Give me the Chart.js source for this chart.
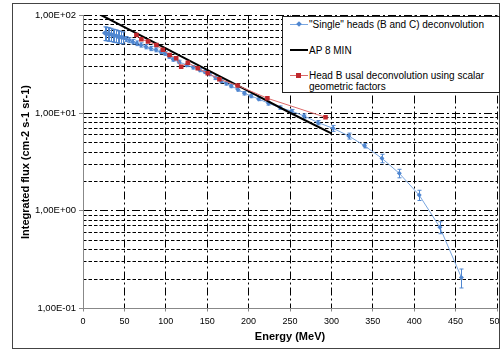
<!DOCTYPE html>
<html><head><meta charset="utf-8">
<script src="https://cdn.jsdelivr.net/npm/chart.js@4.4.1/dist/chart.umd.min.js"></script>
<style>
html,body{margin:0;padding:0;background:#fff;}
#wrap{position:relative;width:500px;height:351px;overflow:hidden;background:#fff;}
#c{position:absolute;left:0;top:0;}
#frame{position:absolute;left:12px;top:3px;width:488px;height:346px;box-sizing:border-box;border:1px solid #444;pointer-events:none;}
#legend{position:absolute;left:282px;top:16px;width:218px;height:77px;box-sizing:border-box;border:1px solid #222;background:#fff;font:10px "Liberation Sans",Arial,sans-serif;color:#000;}
.txt{position:absolute;left:26px;line-height:11px;white-space:nowrap;}
.ln{position:absolute;left:7px;width:18px;}
.mk{position:absolute;}
</style>
</head><body>
<div id="wrap">
<canvas id="c" width="501" height="351"></canvas>
<div id="frame"></div>
<div id="legend"></div>
</div>
<script>
// ---- data ----
const seriesNames = ['"Single" heads (B and C) deconvolution', 'AP 8 MIN', 'Head B usal deconvolution using scalar geometric factors'];

const blueEnergy = [26,28,30,32,34,36,38,40,42,44,46,48, 52,56,60,65,70,76,82,88,94,99,104,109, 116,125,133,141,147,153,160,167,173,179,187,195,203,212,224,238,252, 267,284,302,321,340,361,382,406,431,457];
const blueFlux   = [66,65.5,65,64.5,64,63,62.5,62,61,60.5,60,59.5, 57.5,56,54,52,50,48,46,44.5,42.5,41,38,35.5, 33.5,31.2,29.5,27.7,26.5,25.2,23,21.4,20.2,19,17.5,16,15,14,12.6,11.4,10.5, 9.36,8.0,7.0,5.84,4.64,3.45,2.42,1.45,0.678,0.208];
const blueErr    = [0.16,0.16,0.16,0.155,0.155,0.15,0.15,0.15,0.145,0.145,0.14,0.14, 0.06,0.06,0.055,0.055,0.05,0.05,0.05,0.045,0.045,0.045,0.04,0.04, 0.04,0.04,0.04,0.04,0.04,0.04,0.04,0.04,0.04,0.04,0.04,0.04,0.04,0.04,0.04,0.04,0.04, 0.05,0.05,0.07,0.07,0.05,0.1,0.1,0.12,0.14,0.22];

const blackEnergy = [20,50,100,150,200,250,300];
const blackFlux   = [103,76,46,27.8,16.8,10.1,6.2];

const redEnergy = [64.5,70.5,78.5,88.6,96.5,104.6,112.6,118.6,126.6,138.6,150.6,164.7,186.7,222.7,292.9];
const redFlux   = [63.3,57.2,54.1,50.0,44.5,39.5,36.5,29.9,32.9,28.8,25.6,22.3,19.2,14.2,9.08];

const xTickValues = [0,50,100,150,200,250,300,350,400,450,500];
const yMajorTicks = [0.1,1,10,100];
const yMajorLabels = ['1,00E-01','1,00E+00','1,00E+01','1,00E+02'];
const yMinorTicks = [0.2,0.3,0.4,0.5,0.6,0.7,0.8,0.9,2,3,4,5,6,7,8,9,20,30,40,50,60,70,80,90];

// ---- styles ----
const BLUE = '#4f86d0';
const BLUE_LINE = '#79a6e0';
const RED_MK = '#c0282d';
const RED_LINE = '#dc6a6a';
const FONT = '"Liberation Sans", Arial, sans-serif';

const pts = (xs, ys) => xs.map((v, i) => ({x: v, y: ys[i]}));

const errorBars = {
  id: 'errorBars',
  afterDatasetDraw(chart, args) {
    if (args.index !== 0) return;
    const {ctx, scales: {x, y}} = chart;
    ctx.save();
    ctx.strokeStyle = BLUE;
    ctx.lineWidth = 1;
    blueEnergy.forEach((e, i) => {
      const v = blueFlux[i], r = blueErr[i];
      const px = Math.round(x.getPixelForValue(e)) + 0.5;
      const y1 = y.getPixelForValue(v * (1 + r));
      const y2 = y.getPixelForValue(v * (1 - r));
      ctx.beginPath();
      ctx.moveTo(px, y1); ctx.lineTo(px, y2);
      ctx.moveTo(px - 2, y1); ctx.lineTo(px + 2, y1);
      ctx.moveTo(px - 2, y2); ctx.lineTo(px + 2, y2);
      ctx.stroke();
    });
    ctx.restore();
  }
};

new Chart(document.getElementById('c'), {
  type: 'scatter',
  data: {
    datasets: [
      { label: seriesNames[0], data: pts(blueEnergy, blueFlux), showLine: true,
        borderColor: BLUE_LINE, backgroundColor: BLUE, pointBorderColor: BLUE, borderWidth: 1,
        pointStyle: 'rectRot', pointRadius: 2.5, pointBorderWidth: 0, order: 2 },
      { label: seriesNames[1], data: pts(blackEnergy, blackFlux), showLine: true,
        borderColor: '#000', backgroundColor: '#000', borderWidth: 2, pointRadius: 0, order: 1 },
      { label: seriesNames[2], data: pts(redEnergy, redFlux), showLine: true,
        borderColor: RED_LINE, backgroundColor: RED_MK, pointBorderColor: RED_MK, borderWidth: 1,
        pointStyle: 'rect', pointRadius: 3.2, pointBorderWidth: 0, order: 0 }
    ]
  },
  options: {
    responsive: false, animation: false, devicePixelRatio: 1,
    layout: { padding: { left: 0, top: 15.5, right: 2, bottom: 0 } },
    plugins: { legend: { display: false }, tooltip: { enabled: false } },
    scales: {
      x: {
        type: 'linear', min: 0, max: 500,
        afterBuildTicks: a => { a.ticks = xTickValues.map(v => ({value: v})); },
        afterFit: s => { s.height = 42.5; s.paddingLeft = 0; s.paddingRight = 0; },
        ticks: { font: { family: FONT, size: 9 }, color: '#000', padding: 4.5, maxRotation: 0, autoSkip: false },
        grid: { color: '#000', lineWidth: 1, tickLength: 3, tickColor: '#888' },
        border: { color: '#888', dash: [8, 3, 2, 3] },
        title: { display: true, text: 'Energy (MeV)', color: '#000',
                 font: { family: FONT, size: 11, weight: 'bold' }, padding: { top: 0, bottom: 7.4 } }
      },
      y: {
        type: 'logarithmic', position: 'left', min: 0.1, max: 100,
        afterBuildTicks: a => { a.ticks = yMajorTicks.map(v => ({value: v})); },
        afterFit: s => { s.width = 83; s.paddingTop = 0; s.paddingBottom = 0; },
        ticks: { font: { family: FONT, size: 9.5 }, color: '#000', padding: 3, autoSkip: false,
                 callback: v => yMajorLabels[yMajorTicks.indexOf(v)] },
        grid: { color: '#000', lineWidth: 1, tickLength: 4, tickColor: '#888' },
        border: { color: '#888', dash: [8, 3, 2, 3] },
        title: { display: true, text: 'Integrated flux (cm-2 s-1 sr-1)', color: '#000',
                 font: { family: FONT, size: 11, weight: 'bold' }, padding: { top: 19.4, bottom: 0 } }
      },
      y2: {
        type: 'logarithmic', position: 'left', min: 0.1, max: 100,
        afterBuildTicks: a => { a.ticks = yMinorTicks.map(v => ({value: v})); },
        afterFit: s => { s.width = 0; s.paddingTop = 0; s.paddingBottom = 0; },
        ticks: { display: false },
        grid: { color: '#000', lineWidth: 1, drawTicks: false },
        border: { display: false, dash: [3.5, 2] }
      }
    }
  },
  plugins: [errorBars]
});

// ---- legend (HTML, real text) ----
const lg = document.getElementById('legend');
lg.innerHTML =
  '<div class="ln" style="top:7px;height:1px;background:' + BLUE_LINE + '"></div>' +
  '<div class="mk" style="left:14px;top:5px;width:4px;height:4px;background:' + BLUE + ';transform:rotate(45deg)"></div>' +
  '<div class="txt" style="top:2px">' + seriesNames[0].replace(/"/g, '&quot;') + '</div>' +
  '<div class="ln" style="top:32px;height:2px;background:#000"></div>' +
  '<div class="txt" style="top:28px">' + seriesNames[1] + '</div>' +
  '<div class="ln" style="top:58px;height:1px;background:' + RED_LINE + '"></div>' +
  '<div class="mk" style="left:13px;top:56px;width:5px;height:5px;background:' + RED_MK + '"></div>' +
  '<div class="txt" style="top:53px">Head B usal deconvolution using scalar<br>geometric factors</div>';
</script>
</body></html>
